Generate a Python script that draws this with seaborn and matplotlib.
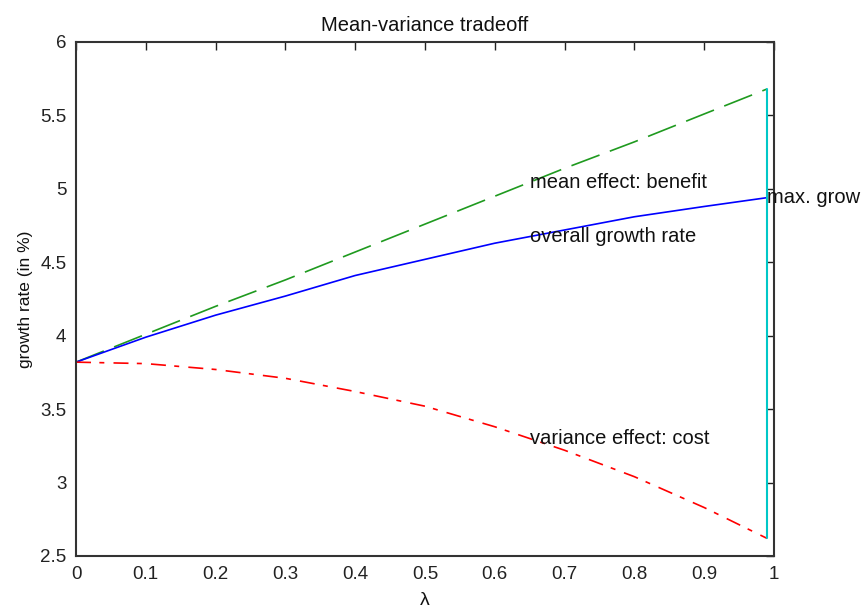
import matplotlib
matplotlib.use("Agg")
import matplotlib.pyplot as plt
import seaborn as sns
import numpy as np
from matplotlib.ticker import FuncFormatter, MultipleLocator

# Data
lam = [0, 0.1, 0.2, 0.3, 0.4, 0.5, 0.6, 0.7, 0.8, 0.9, 0.99]
mean_effect = [3.82, 4.01, 4.20, 4.38, 4.57, 4.76, 4.95, 5.14, 5.32, 5.51, 5.68]
variance_effect = [3.82, 3.81, 3.77, 3.71, 3.62, 3.52, 3.38, 3.22, 3.04, 2.83, 2.62]
overall_rate = [3.82, 3.99, 4.14, 4.27, 4.41, 4.52, 4.63, 4.72, 4.81, 4.88, 4.94]
lam_max = 0.99
label_x = 0.65
labels = ["mean effect: benefit", "overall growth rate", "variance effect: cost"]
max_label = "max. grow"

sns.set_style("white")
plt.rcParams['font.family'] = ['Liberation Sans', 'DejaVu Sans']

fig = plt.figure(figsize=(8.64, 6.14), dpi=100)
ax = fig.add_axes([76/864, 1-556/614, (774-76)/864, (556-42)/614])

sns.lineplot(x=lam, y=mean_effect, ax=ax, color='#1f9a1f', linestyle=(0, (18, 6.6)), linewidth=1.2)
sns.lineplot(x=lam, y=overall_rate, ax=ax, color='#0000ff', linestyle='-', linewidth=1.2)
sns.lineplot(x=lam, y=variance_effect, ax=ax, color='#ff0000', linestyle=(0, (9, 5, 3, 5.5)), linewidth=1.2)
ax.plot([lam_max, lam_max], [variance_effect[-1], mean_effect[-1]], color=(0, 0.78, 0.78), linewidth=1.5)

ax.set_xlim(0, 1)
ax.set_ylim(2.5, 6)
ax.xaxis.set_major_locator(MultipleLocator(0.1))
ax.yaxis.set_major_locator(MultipleLocator(0.5))
fmt = FuncFormatter(lambda v, p: '{:g}'.format(round(v, 2)))
ax.xaxis.set_major_formatter(fmt)
ax.yaxis.set_major_formatter(fmt)
ax.tick_params(direction='in', length=6, width=1, top=True, right=True,
               labelsize=13.5, colors='#222222', pad=7)
for s in ax.spines.values():
    s.set_visible(True)
    s.set_color('#333333')
    s.set_linewidth(1.5)

def interp(series, x):
    return float(np.interp(x, lam, series))

ax.text(label_x, interp(mean_effect, label_x), labels[0], fontsize=14.5, va='center', ha='left', color='#111111')
ax.text(label_x, interp(overall_rate, label_x), labels[1], fontsize=14.5, va='center', ha='left', color='#111111')
ax.text(label_x, interp(variance_effect, label_x), labels[2], fontsize=14.5, va='center', ha='left', color='#111111')
ax.text(lam_max, overall_rate[-1], max_label, fontsize=14.5, va='center', ha='left', color='#111111', clip_on=False)

ax.set_title("Mean-variance tradeoff", fontsize=14.5, pad=8, color='#111111')
ax.set_xlabel("λ", fontsize=14, color='#111111', labelpad=7)
ax.set_ylabel("growth rate (in %)", fontsize=12.5, color='#111111', labelpad=5)

fig.savefig("out.png", dpi=100, facecolor='white')
